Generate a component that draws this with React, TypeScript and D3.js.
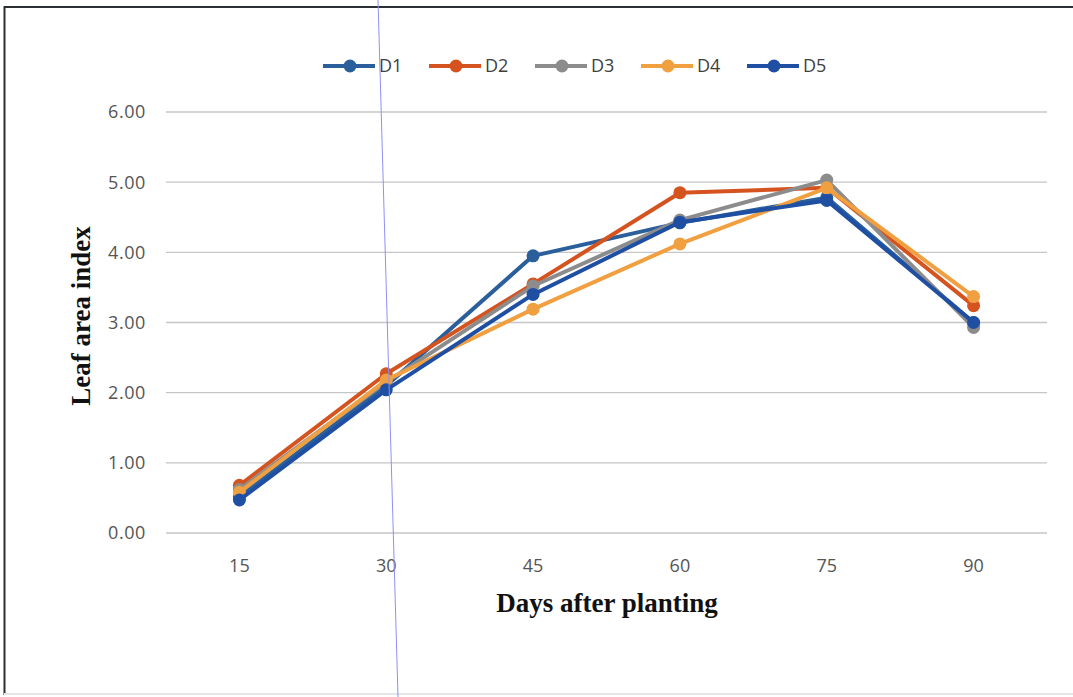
import React, { useEffect, useRef } from "react";
import * as d3 from "d3";

// Days after planting
const days = ["15", "30", "45", "60", "75", "90"];

// Leaf area index per treatment
const D1 = [0.52, 2.1, 3.95, 4.42, 4.78, 3.0];
const D2 = [0.68, 2.27, 3.55, 4.85, 4.92, 3.24];
const D3 = [0.62, 2.15, 3.52, 4.46, 5.03, 2.93];
const D4 = [0.58, 2.18, 3.19, 4.12, 4.92, 3.37];
const D5 = [0.47, 2.04, 3.4, 4.43, 4.74, 3.0];

const seriesNames = ["D1", "D2", "D3", "D4", "D5"];
const seriesValues = [D1, D2, D3, D4, D5];
const seriesColors = ["#2a5f9c", "#d4531f", "#8c8c8c", "#f0a040", "#1f4fa3"];

const yTicks = [0, 1, 2, 3, 4, 5, 6];

const W = 1073;
const H = 697;

export default function App() {
  const ref = useRef<SVGSVGElement | null>(null);

  useEffect(() => {
    const svg = d3.select(ref.current);
    svg.selectAll("*").remove();

    const plot = { left: 166, right: 1047, top: 112, bottom: 533 };

    const x = d3.scaleBand<string>().domain(days).range([plot.left, plot.right]);
    const y = d3.scaleLinear().domain([0, 6]).range([plot.bottom, plot.top]);
    const cx = (d: string) => (x(d) as number) + x.bandwidth() / 2;

    svg.append("rect").attr("width", W).attr("height", H).attr("fill", "#ffffff");

    // frame
    svg.append("line").attr("x1", 4).attr("x2", W).attr("y1", 7).attr("y2", 7)
      .attr("stroke", "#2b2f33").attr("stroke-width", 2.2);
    svg.append("line").attr("x1", 4.5).attr("x2", 4.5).attr("y1", 6).attr("y2", 695)
      .attr("stroke", "#2b2f33").attr("stroke-width", 2);
    svg.append("line").attr("x1", 4).attr("x2", W).attr("y1", 694).attr("y2", 694)
      .attr("stroke", "#e4e6e8").attr("stroke-width", 2);

    // gridlines
    svg.append("g").selectAll("line").data(yTicks).join("line")
      .attr("x1", plot.left).attr("x2", plot.right)
      .attr("y1", (d) => y(d)).attr("y2", (d) => y(d))
      .attr("stroke", "#c6c6c6").attr("stroke-width", 1.3);

    // y tick labels
    svg.append("g").selectAll("text").data(yTicks).join("text")
      .attr("x", 146).attr("y", (d) => y(d)).attr("dy", "0.36em")
      .attr("text-anchor", "end")
      .attr("font-family", "'Open Sans', sans-serif").attr("font-size", 18)
      .attr("letter-spacing", 0.6)
      .attr("fill", "#555555")
      .text((d) => d3.format(".2f")(d));

    // x tick labels
    svg.append("g").selectAll("text").data(days).join("text")
      .attr("x", (d) => cx(d)).attr("y", 566).attr("dy", "0.36em")
      .attr("text-anchor", "middle")
      .attr("font-family", "'Open Sans', sans-serif").attr("font-size", 18)
      .attr("fill", "#555555")
      .text((d) => d);

    // axis titles
    svg.append("text")
      .attr("x", 607).attr("y", 612)
      .attr("text-anchor", "middle")
      .attr("font-family", "'Liberation Serif', 'Times New Roman', serif")
      .attr("font-weight", "bold").attr("font-size", 27)
      .attr("fill", "#111")
      .text("Days after planting");
    svg.append("text")
      .attr("transform", `translate(90, 316) rotate(-90)`)
      .attr("text-anchor", "middle")
      .attr("font-family", "'Liberation Serif', 'Times New Roman', serif")
      .attr("font-weight", "bold").attr("font-size", 27)
      .attr("fill", "#111")
      .text("Leaf area index");

    // series
    const line = d3.line<number>()
      .x((_, i) => cx(days[i]))
      .y((v) => y(v));

    seriesValues.forEach((vals, si) => {
      const g = svg.append("g");
      g.append("path").datum(vals)
        .attr("d", line)
        .attr("fill", "none")
        .attr("stroke", seriesColors[si])
        .attr("stroke-width", 4)
        .attr("stroke-linejoin", "round");
      g.selectAll("circle").data(vals).join("circle")
        .attr("cx", (_, i) => cx(days[i]))
        .attr("cy", (v) => y(v))
        .attr("r", 6.5)
        .attr("fill", seriesColors[si]);
    });

    // legend
    const legend = svg.append("g");
    seriesNames.forEach((name, i) => {
      const lx = 323 + i * 106;
      const ly = 66;
      legend.append("line")
        .attr("x1", lx).attr("x2", lx + 52).attr("y1", ly).attr("y2", ly)
        .attr("stroke", seriesColors[i]).attr("stroke-width", 4);
      legend.append("circle")
        .attr("cx", lx + 27).attr("cy", ly).attr("r", 6.5)
        .attr("fill", seriesColors[i]);
      legend.append("text")
        .attr("x", lx + 56).attr("y", ly).attr("dy", "0.36em")
        .attr("font-family", "'Open Sans', sans-serif").attr("font-size", 18)
        .attr("fill", "#404040")
        .text(name);
    });

    // thin blue guide line crossing the page
    svg.append("line")
      .attr("x1", 378).attr("y1", 0).attr("x2", 398).attr("y2", H)
      .attr("stroke", "#8f8ff5").attr("stroke-width", 1);
  }, []);

  return (
    <svg
      ref={ref}
      width={W}
      height={H}
      style={{ position: "absolute", left: 0, top: 0, display: "block" }}
    />
  );
}
